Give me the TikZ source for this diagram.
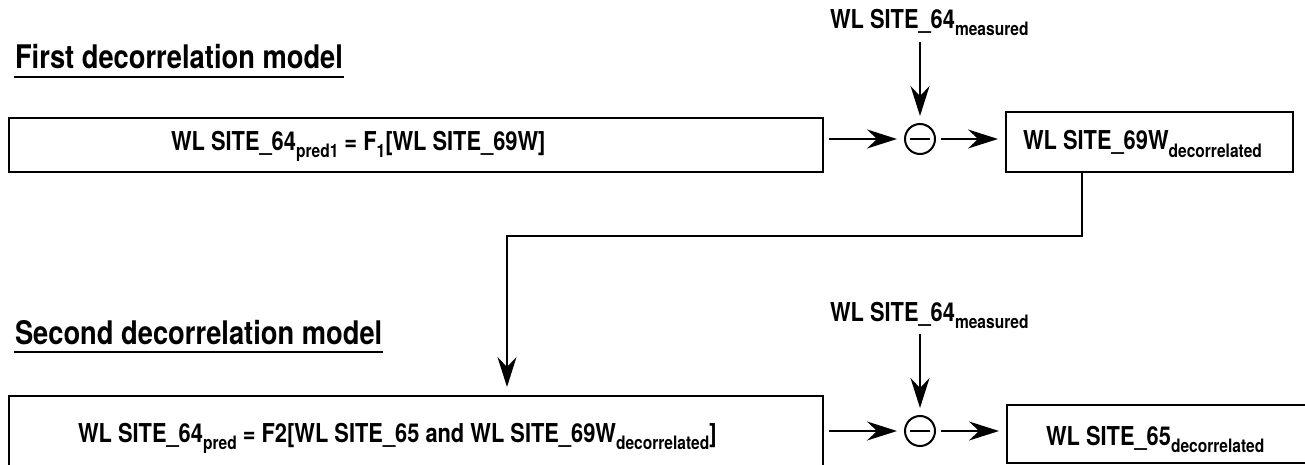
\documentclass[tikz,border=0pt]{standalone}
\usepackage{fontspec}
\setmainfont{TeX Gyre Heros}[FakeStretch=0.84]
\usetikzlibrary{arrows.meta}
\newcommand\lowsub[1]{\raisebox{-7pt}{\fontsize{18.5}{20}\selectfont #1}}

\begin{document}
\begin{tikzpicture}[x=1pt, y=-1pt, line width=2pt,
  >={Stealth[length=30pt,width=19pt,inset=10pt]},
  modelbox/.style={draw, rectangle, inner sep=0pt},
  txt/.style={font=\fontsize{26}{30}\selectfont\bfseries, inner sep=0pt, anchor=base west},
  heading/.style={font=\fontsize{32.5}{38}\selectfont\bfseries, inner sep=0pt, anchor=base west},
  minus/.style={draw, circle, minimum size=30pt, inner sep=0pt,
    path picture={\draw ([xshift=-10pt]path picture bounding box.center) -- ([xshift=10pt]path picture bounding box.center);}},
  flow/.style={->, shorten >=7pt, shorten <=5pt}]
\useasboundingbox (0,0) rectangle (1305,465);
\clip (0,0) rectangle (1305,465);
% Headings
\node[heading] (head1) at (14,69) {First decorrelation model};
\draw ([yshift=-8pt]head1.base west) -- ([yshift=-8pt]head1.base east);
\node[heading] (head2) at (14,344) {Second decorrelation model};
\draw ([yshift=-8pt]head2.base west) -- ([yshift=-8pt]head2.base east);
% Model boxes
\node[modelbox, minimum width=814pt, minimum height=54pt] (pred1) at (416,145) {};
\node[txt] (pred1txt) at (170,151) {WL SITE\_64\lowsub{pred1} = F\lowsub{1}[WL SITE\_69W]};
\node[modelbox, minimum width=814pt, minimum height=104pt] (pred2) at (416,448) {};
\node[txt] (pred2txt) at (77,442) {WL SITE\_64\lowsub{pred} = F2[WL SITE\_65 and WL SITE\_69W\lowsub{decorrelated}]};
% Result boxes
\node[modelbox, minimum width=287pt, minimum height=60pt] (res1) at (1149.5,142) {};
\node[txt] (res1txt) at (1022,150) {WL SITE\_69W\lowsub{decorrelated}};
\node[modelbox, minimum width=323pt, minimum height=58pt] (res2) at (1168.5,434) {};
\node[txt] (res2txt) at (1045,445) {WL SITE\_65\lowsub{decorrelated}};
% Subtraction with the measured level
\foreach \n/\y in {1/139, 2/431} {
  \node[minus] (d\n) at (920,\y) {};
  \node[txt] (m\n) at (829,\y-110) {WL SITE\_64\lowsub{measured}};
  \draw[flow] (m\n.south -| d\n) -- (d\n);
  \draw[flow] (pred\n.east |- d\n) -- (d\n);
  \draw[flow] (d\n) -- (res\n.west |- d\n);
}
% Feed the first result into the second model
\coordinate (bend1) at (1082,236);
\coordinate (bend2) at (507,236);
\draw[->, shorten >=8pt] (res1.south -| bend1) -- (bend1) -- (bend2) -- (bend2 |- pred2.north);
\end{tikzpicture}
\end{document}
